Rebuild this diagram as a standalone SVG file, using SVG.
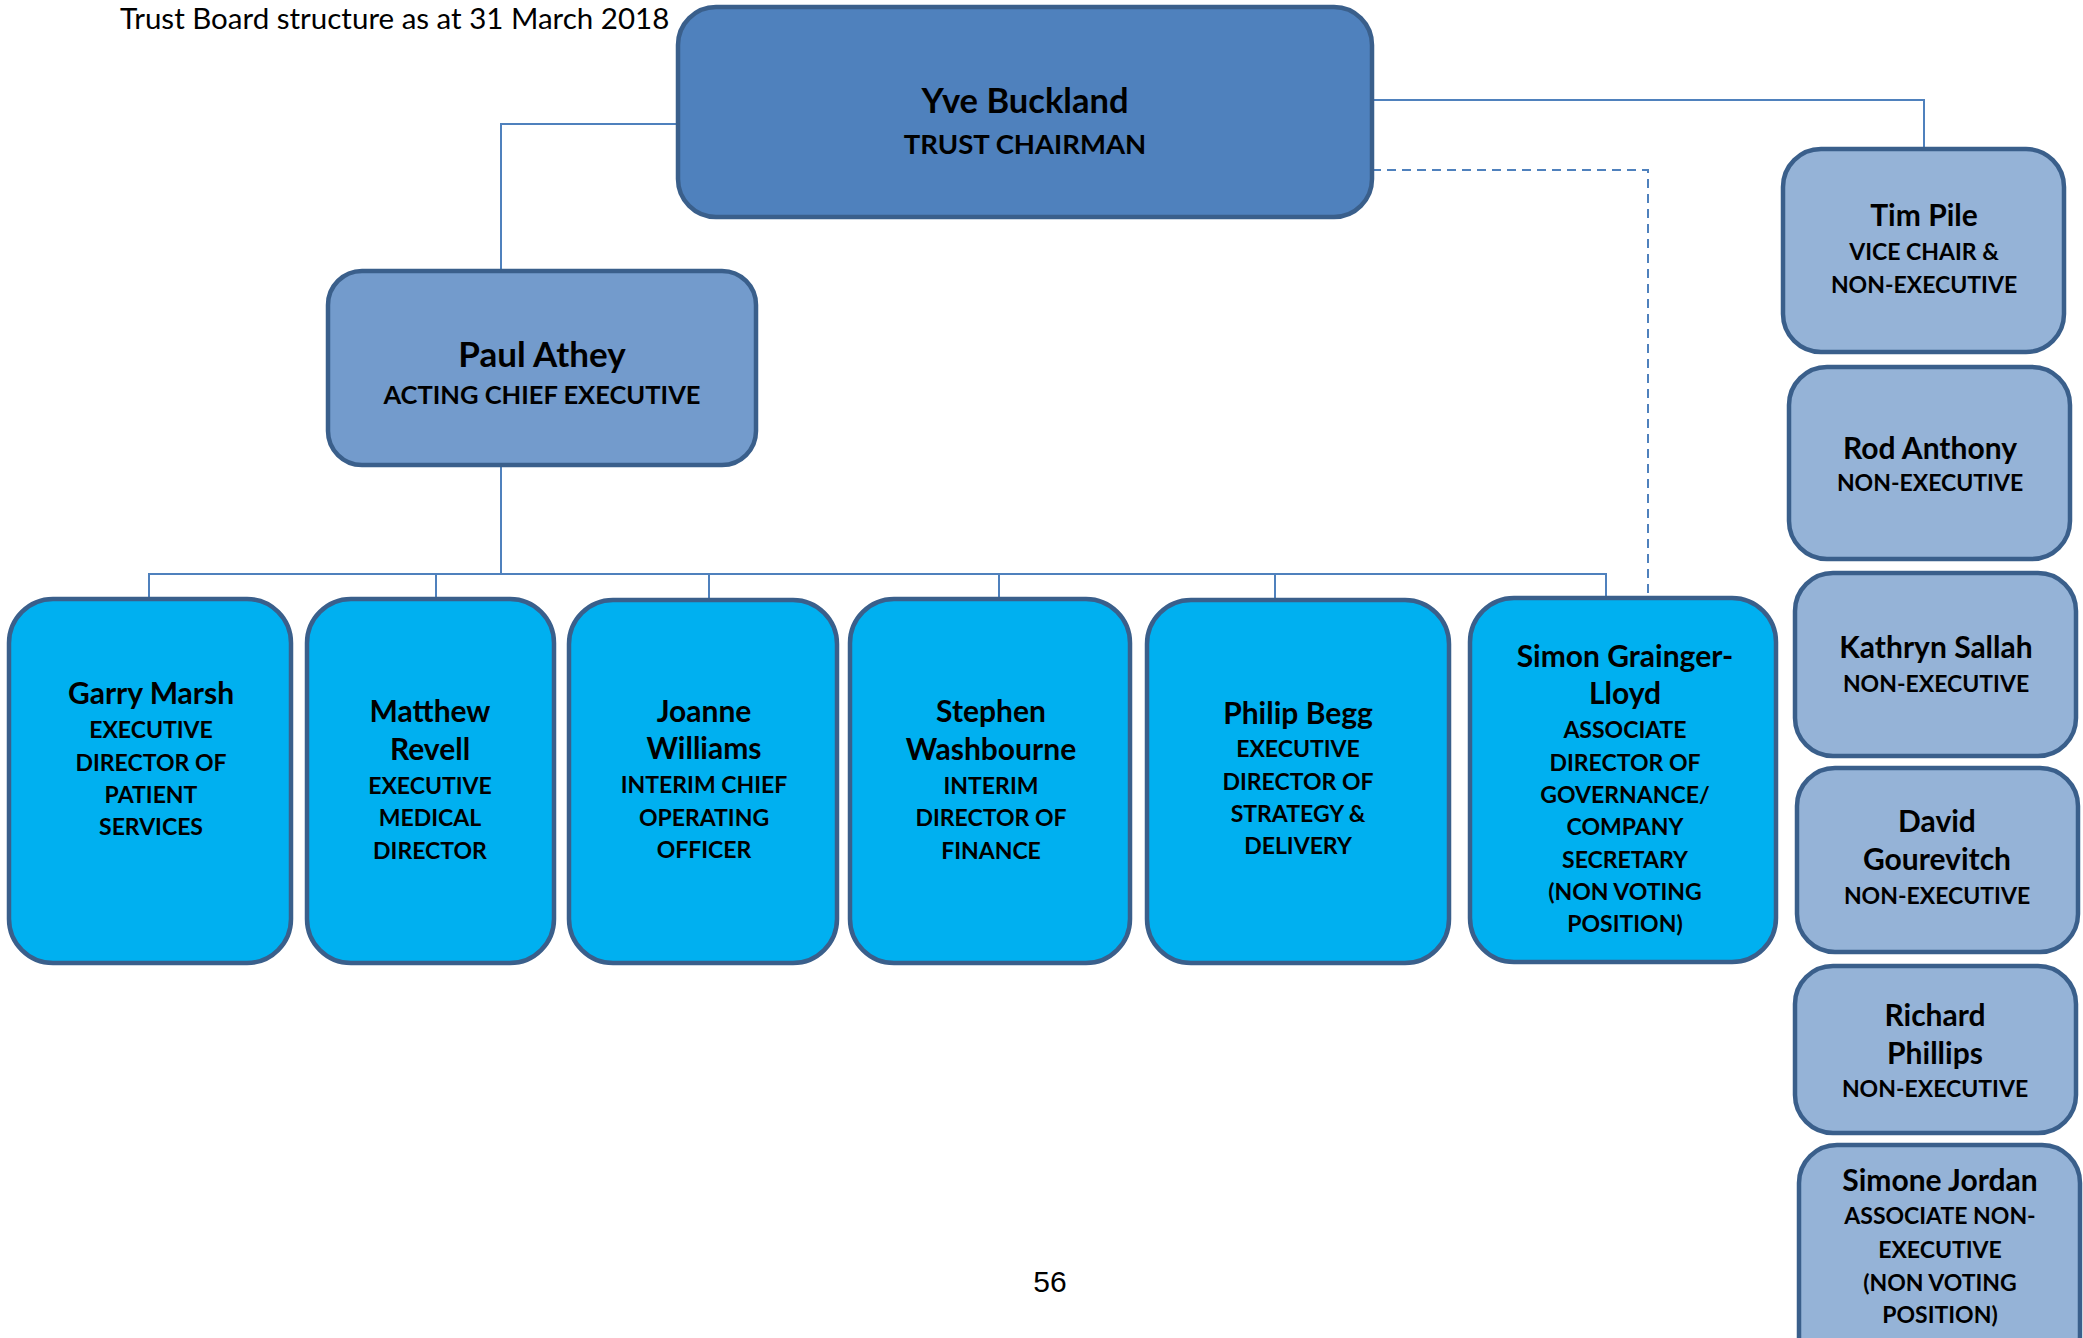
<svg xmlns="http://www.w3.org/2000/svg" width="2083" height="1338" viewBox="0 0 2083 1338">
  <style>
    .box { stroke: #3A5F8B; stroke-width: 4.5; }
    .chair { fill: #4F81BD; }
    .ceo { fill: #739BCC; }
    .exec { fill: #00B0F0; }
    .ned { fill: #95B3D7; }
    .link { fill: none; stroke: #4F81BD; stroke-width: 2; }
    .dash { fill: none; stroke: #4F81BD; stroke-width: 2; stroke-dasharray: 9 6; }
    text { font-family: Lato, "Open Sans", sans-serif; font-weight: bold; fill: #000; text-anchor: middle; }
    .nm { font-size: 30px; }
    .rl { font-size: 23px; }
  </style>
  <rect x="0" y="0" width="2083" height="1338" fill="#FFFFFF"/>

  <text x="120" y="29" style="font-weight:normal;font-size:29.5px;text-anchor:start">Trust Board structure as at 31 March 2018</text>

  <!-- connectors -->
  <g id="connectors">
    <polyline class="link" points="678,124 501,124 501,271"/>
    <polyline class="link" points="501,465 501,574"/>
    <polyline class="link" points="149,599 149,574 1606,574 1606,599"/>
    <line class="link" x1="436" y1="574" x2="436" y2="599"/>
    <line class="link" x1="709" y1="574" x2="709" y2="600"/>
    <line class="link" x1="999" y1="574" x2="999" y2="599"/>
    <line class="link" x1="1275" y1="574" x2="1275" y2="600"/>
    <polyline class="link" points="1372,100 1924,100 1924,149"/>
    <polyline class="dash" points="1372,170 1648,170 1648,598"/>
  </g>

  <g id="chairman">
    <rect class="box chair" x="678" y="7" width="694" height="210" rx="38"/>
    <text x="1025" y="113" style="font-size:34.5px">Yve Buckland</text>
    <text x="1025" y="154" style="font-size:27.5px">TRUST CHAIRMAN</text>
  </g>

  <g id="chief-executive">
    <rect class="box ceo" x="328" y="271" width="428" height="194" rx="34"/>
    <text x="542" y="367" style="font-size:35px">Paul Athey</text>
    <text x="542" y="404" style="font-size:25.5px">ACTING CHIEF EXECUTIVE</text>
  </g>

  <g id="garry-marsh">
    <rect class="box exec" x="9" y="599" width="282" height="364" rx="44"/>
    <text class="nm" x="151" y="704">Garry Marsh</text>
    <text class="rl" x="151" y="738">EXECUTIVE</text>
    <text class="rl" x="151" y="771">DIRECTOR OF</text>
    <text class="rl" x="151" y="803">PATIENT</text>
    <text class="rl" x="151" y="835">SERVICES</text>
  </g>

  <g id="matthew-revell">
    <rect class="box exec" x="307" y="599" width="247" height="364" rx="44"/>
    <text class="nm" x="430" y="722">Matthew</text>
    <text class="nm" x="430" y="760">Revell</text>
    <text class="rl" x="430" y="794">EXECUTIVE</text>
    <text class="rl" x="430" y="826">MEDICAL</text>
    <text class="rl" x="430" y="859">DIRECTOR</text>
  </g>

  <g id="joanne-williams">
    <rect class="box exec" x="569" y="600" width="268" height="363" rx="44"/>
    <text class="nm" x="704" y="722">Joanne</text>
    <text class="nm" x="704" y="759">Williams</text>
    <text class="rl" x="704" y="793">INTERIM CHIEF</text>
    <text class="rl" x="704" y="826">OPERATING</text>
    <text class="rl" x="704" y="858">OFFICER</text>
  </g>

  <g id="stephen-washbourne">
    <rect class="box exec" x="850" y="599" width="280" height="364" rx="44"/>
    <text class="nm" x="991" y="722">Stephen</text>
    <text class="nm" x="991" y="760">Washbourne</text>
    <text class="rl" x="991" y="794">INTERIM</text>
    <text class="rl" x="991" y="826">DIRECTOR OF</text>
    <text class="rl" x="991" y="859">FINANCE</text>
  </g>

  <g id="philip-begg">
    <rect class="box exec" x="1147" y="600" width="302" height="363" rx="44"/>
    <text class="nm" x="1298" y="724">Philip Begg</text>
    <text class="rl" x="1298" y="757">EXECUTIVE</text>
    <text class="rl" x="1298" y="790">DIRECTOR OF</text>
    <text class="rl" x="1298" y="822">STRATEGY &amp;</text>
    <text class="rl" x="1298" y="854">DELIVERY</text>
  </g>

  <g id="simon-grainger-lloyd">
    <rect class="box exec" x="1470" y="598" width="306" height="364" rx="44"/>
    <text class="nm" x="1625" y="667">Simon Grainger-</text>
    <text class="nm" x="1625" y="704">Lloyd</text>
    <text class="rl" x="1625" y="738">ASSOCIATE</text>
    <text class="rl" x="1625" y="771">DIRECTOR OF</text>
    <text class="rl" x="1625" y="803">GOVERNANCE/</text>
    <text class="rl" x="1625" y="835">COMPANY</text>
    <text class="rl" x="1625" y="868">SECRETARY</text>
    <text class="rl" x="1625" y="900">(NON VOTING</text>
    <text class="rl" x="1625" y="932">POSITION)</text>
  </g>

  <g id="tim-pile">
    <rect class="box ned" x="1783" y="149" width="281" height="203" rx="38"/>
    <text class="nm" x="1924" y="226">Tim Pile</text>
    <text class="rl" x="1924" y="260">VICE CHAIR &amp;</text>
    <text class="rl" x="1924" y="293">NON-EXECUTIVE</text>
  </g>

  <g id="rod-anthony">
    <rect class="box ned" x="1789" y="367" width="281" height="192" rx="38"/>
    <text class="nm" x="1930" y="459">Rod Anthony</text>
    <text class="rl" x="1930" y="491">NON-EXECUTIVE</text>
  </g>

  <g id="kathryn-sallah">
    <rect class="box ned" x="1795" y="573" width="281" height="183" rx="38"/>
    <text class="nm" x="1936" y="658">Kathryn Sallah</text>
    <text class="rl" x="1936" y="692">NON-EXECUTIVE</text>
  </g>

  <g id="david-gourevitch">
    <rect class="box ned" x="1797" y="768" width="281" height="184" rx="38"/>
    <text class="nm" x="1937" y="832">David</text>
    <text class="nm" x="1937" y="870">Gourevitch</text>
    <text class="rl" x="1937" y="904">NON-EXECUTIVE</text>
  </g>

  <g id="richard-phillips">
    <rect class="box ned" x="1795" y="966" width="281" height="167" rx="38"/>
    <text class="nm" x="1935" y="1026">Richard</text>
    <text class="nm" x="1935" y="1064">Phillips</text>
    <text class="rl" x="1935" y="1097">NON-EXECUTIVE</text>
  </g>

  <g id="simone-jordan">
    <rect class="box ned" x="1799" y="1145" width="281" height="230" rx="38"/>
    <text class="nm" x="1940" y="1191">Simone Jordan</text>
    <text class="rl" x="1940" y="1224">ASSOCIATE NON-</text>
    <text class="rl" x="1940" y="1258">EXECUTIVE</text>
    <text class="rl" x="1940" y="1291">(NON VOTING</text>
    <text class="rl" x="1940" y="1323">POSITION)</text>
  </g>

  <text x="1050" y="1292" style="font-family:'Liberation Sans', Arial, sans-serif;font-weight:normal;font-size:30px">56</text>
</svg>
